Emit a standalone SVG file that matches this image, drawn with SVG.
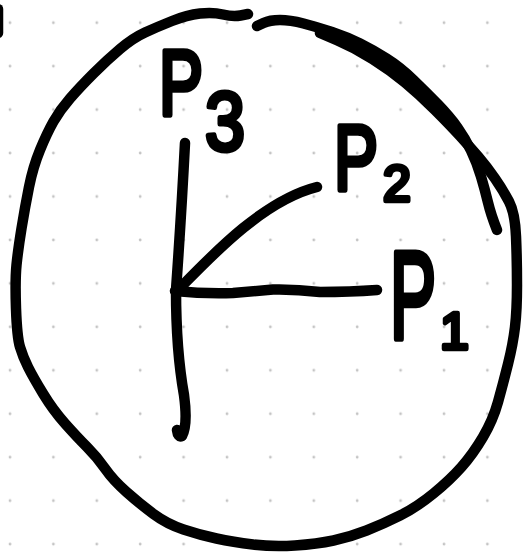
<svg xmlns="http://www.w3.org/2000/svg" width="527" height="557" viewBox="0 0 527 557">
  <defs>
    <pattern id="dots" patternUnits="userSpaceOnUse" x="0" y="0" width="43.4" height="43.45">
      <circle cx="10" cy="22.7" r="1.4" fill="#c4c4c4"/>
    </pattern>
    <style>
      .ink{fill:none;stroke:#000;stroke-width:10.5;stroke-linecap:round;stroke-linejoin:round}
      .lbl{font-family:"Liberation Sans","DejaVu Sans",sans-serif;fill:#000;stroke:#000;stroke-width:4.5;stroke-linejoin:round}
    </style>
  </defs>
  <rect width="527" height="557" fill="#fff"/>
  <rect width="527" height="557" fill="url(#dots)"/>

  <g id="edge-mark">
    <path class="ink" d="M-2,9 L-2,33"/>
  </g>

  <g id="sphere">
    <path class="ink" d="M248,14 L240.5,15.5 Q233,17 223,14.5 Q213,12 200,13.5 Q187,15 172,21 Q157,27 145,32.5 Q133,38 120,49 Q107,60 93.5,73.5 Q80,87 70,98.5 Q60,110 53.5,121.5 Q47,133 40,150 Q33,167 29,187 Q25,207 21.5,228.5 Q18,250 16.5,265 Q15,280 16,308.5 Q17,337 20,347 Q23,357 28,367 Q33,377 43,393.5 Q53,410 65,423.5 Q77,437 87,447 Q97,457 105,468.5 Q113,480 126.5,492 Q140,504 153.5,514 Q167,524 183.5,529.5 Q200,535 216.5,538.5 Q233,542 253,544.5 Q273,547 295,545.5 Q317,544 333.5,540.5 Q350,537 366.5,530.5 Q383,524 400,515.5 Q417,507 433.5,493.5 Q450,480 461.5,467 Q473,454 483,437 Q493,420 498,402 Q503,384 508,364 Q513,344 515,327 Q517,310 517,285 Q517,260 516,236.5 Q515,213 509,201.5 Q503,190 495,178.5 Q487,167 478.5,157 Q470,147 460,136 Q450,125 435,110 Q420,95 405,82.5 Q390,70 372.5,59 Q355,48 337.5,40.5 L320,33"/>
    <path class="ink" d="M257,26 L263.5,23 Q270,20 280,20 Q290,20 303.5,23.5 Q317,27 332,32 Q347,37 360,43.5 Q373,50 386.5,58.5 Q400,67 413.5,80 Q427,93 438.5,105 Q450,117 457.5,127.5 Q465,138 471,150.5 Q477,163 481,176.5 Q485,190 488,202.5 Q491,215 497,230"/>
  </g>

  <g id="connectors">
    <path class="ink" d="M185,143 Q181,220 176,290 Q176,350 184,395 Q188,425 182,436 Q178,438 177,430"/>
    <path class="ink" d="M175,291 Q205,294 233,293 Q255,291 273,289.5 Q295,289 320,292 Q350,292 377,290"/>
    <path class="ink" d="M179,289 C215,252 265,200 317,187"/>
  </g>

  <g id="p3">
    <text class="lbl" transform="translate(159,115) scale(0.717,1)" font-size="92" style="stroke-width:5.5">P</text>
    <text class="lbl" transform="translate(205,150) scale(0.857,1)" font-size="84" style="stroke-width:5">3</text>
  </g>
  <g id="p2">
    <text class="lbl" transform="translate(334,190) scale(0.717,1)" font-size="92" style="stroke-width:5.5">P</text>
    <text class="lbl" x="383" y="201" font-size="50">2</text>
  </g>
  <g id="p1">
    <text class="lbl" transform="translate(390,338) scale(0.556,1)" font-size="124" style="stroke-width:6.5">P</text>
    <text class="lbl" x="440" y="349" font-size="52">1</text>
  </g>
</svg>
